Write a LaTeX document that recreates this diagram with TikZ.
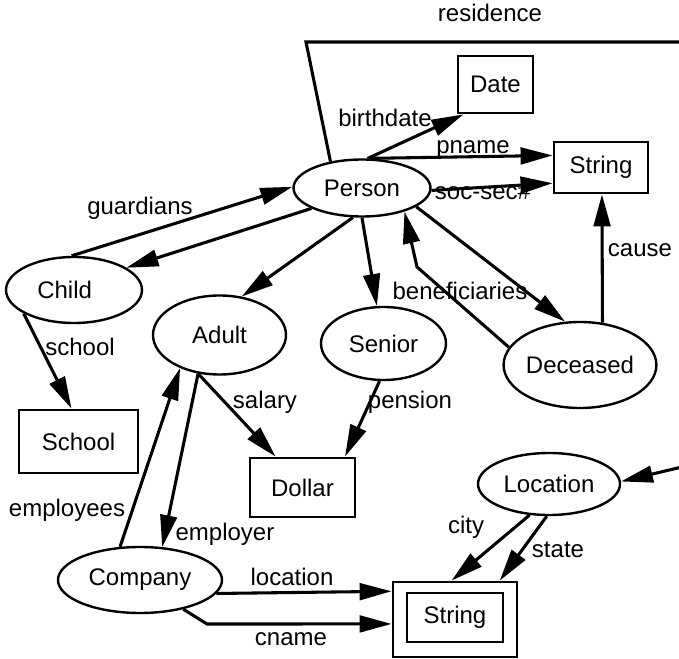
\documentclass[tikz,border=0pt]{standalone}
\usepackage{fontspec}
\setmainfont{Liberation Sans}
\usetikzlibrary{arrows.meta,shapes.geometric}
\definecolor{schemaInk}{RGB}{0,0,0}

\begin{document}
\begin{tikzpicture}[
  x=0.75pt,
  y=-0.75pt,
  every node/.style={font=\fontsize{18}{21}\selectfont, text=schemaInk},
  entity/.style={ellipse, draw=schemaInk, line width=1.8pt, inner sep=0pt},
  atom/.style={rectangle, draw=schemaInk, line width=2.1pt, inner sep=0pt},
  link/.style={draw=schemaInk, line width=2.3pt, -{Triangle[length=24pt,width=12.5pt]}},
  plainLink/.style={draw=schemaInk, line width=2.3pt},
  edgeLabel/.style={anchor=mid, inner sep=0pt}
]
  \useasboundingbox (0,0) rectangle (679,659);

  % classes
  \node[entity, minimum width=102.75pt, minimum height=42.75pt] (person) at (362,188) {Person};
  \node[entity, minimum width=102pt, minimum height=49.5pt] (child) at (74,290) {Child\kern14pt\null};
  \node[entity, minimum width=99.75pt, minimum height=59.25pt] (adult) at (219.5,335) {Adult};
  \node[entity, minimum width=93.75pt, minimum height=54.75pt] (senior) at (383.5,343.5) {Senior};
  \node[entity, minimum width=109.5pt, minimum height=64.5pt] (deceased) at (580,365) {Deceased};
  \node[entity, minimum width=106.5pt, minimum height=46.5pt] (location) at (549,484) {Location};
  \node[entity, minimum width=123pt, minimum height=49.5pt] (company) at (140,580) {Company};

  % atomic types
  \node[atom, minimum width=56.25pt, minimum height=42.75pt] (date) at (495.5,84.5) {Date};
  \node[atom, minimum width=70.5pt, minimum height=38.25pt] (strTop) at (601,167.5) {String};
  \node[atom, minimum width=89.25pt, minimum height=47.25pt] (school) at (78.5,441.5) {School};
  \node[atom, minimum width=78.75pt, minimum height=44.25pt] (dollar) at (302.5,487.5) {Dollar};
  \node[atom, minimum width=93pt, minimum height=56.25pt] (strOut) at (455,619.5) {};
  \node[atom, minimum width=72pt, minimum height=36.75pt] (strIn) at (455,617.5) {String};

  \coordinate (beneBend) at (417,267);
  \coordinate (cnameBend) at (207,624);
  \coordinate (resCorner) at (306,42);
  \coordinate (resOut) at (682,42);
  \coordinate (resIn) at (682,467);

  % attributes
  \draw[link] (person.79) -- (date.223);
  \draw[link] (person.79) -- (strTop.166);
  \draw[link] (person.358) -- (strTop.198);
  \draw[link] (child.94) -- (person.179);
  \draw[link] (person.202) -- (child.23);
  \draw[link] (person.253) -- (adult.60);
  \draw[link] (person.270) -- (senior.100);
  \draw[link] (person.341) -- (deceased.109);
  \draw[link] (deceased.166) -- (beneBend) -- (person.331);
  \draw[link] (deceased.62) -- (strTop.272);
  \draw[link] (child.205) -- (school.102);
  \draw[link] (company.121) -- (adult.220);
  \draw[link] (adult.241) -- (company.56);
  \draw[link] (adult.241) -- (dollar.131);
  \draw[link] (senior.264) -- (dollar.36);
  \draw[link] (company.350) -- (strOut.156);
  \draw[link] (company.326) -- (cnameBend) -- (strOut.184);
  \draw[link] (location.238) -- (strOut.95);
  \draw[link] (location.266) -- (strOut.41);
  \draw[plainLink] (person.140) -- (resCorner) -- (resOut);
  \draw[link] (resIn) -- (location.2);

  % labels
  \node[edgeLabel] (lblResidence) at (490,18) {residence};
  \node[edgeLabel] (lblBirthdate) at (385,123) {birthdate};
  \node[edgeLabel] (lblPname) at (473,150) {pname};
  \node[edgeLabel] (lblSocSec) at (483,196) {soc-sec\#};
  \node[edgeLabel] (lblGuardians) at (140,211) {guardians};
  \node[edgeLabel] (lblCause) at (640,253) {cause};
  \node[edgeLabel] (lblBenef) at (460,296) {beneficiaries};
  \node[edgeLabel] (lblSchool) at (80,352) {school};
  \node[edgeLabel] (lblSalary) at (265,405) {salary};
  \node[edgeLabel] (lblPension) at (410,405) {pension};
  \node[edgeLabel] (lblEmployees) at (67,513) {employees};
  \node[edgeLabel] (lblEmployer) at (225,537) {employer};
  \node[edgeLabel] (lblCity) at (466,530) {city};
  \node[edgeLabel] (lblState) at (558,554) {state};
  \node[edgeLabel] (lblLocation) at (292,582) {location};
  \node[edgeLabel] (lblCname) at (291,642) {cname};
\end{tikzpicture}
\end{document}
